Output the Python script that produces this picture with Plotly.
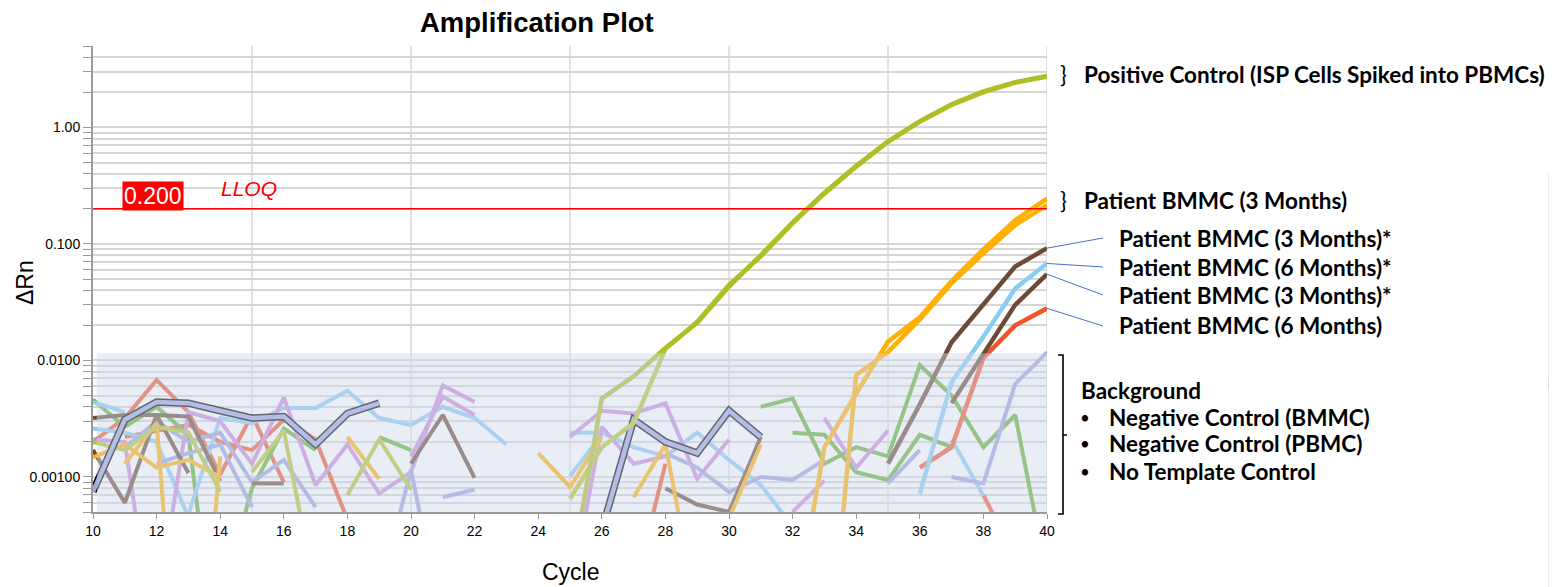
import math
import plotly.graph_objects as go

CYCLES = list(range(10, 41))

# ---------------- main amplification curves (start cycle, values) ----------------
POS_A_START = 25
POS_A = [0.00013, 0.0047, 0.0073, 0.0128, 0.021, 0.043, 0.080, 0.153, 0.276, 0.47, 0.76, 1.13, 1.58, 2.04, 2.45, 2.76]
POS_B_START = 25
POS_B = [0.00065, 0.0018, 0.0029, 0.0125, 0.0215, 0.0445, 0.078, 0.150, 0.270, 0.46, 0.75, 1.12, 1.56, 2.00, 2.42, 2.72]
ORANGE_A_START = 32
ORANGE_A = [0.00005, 0.0018, 0.0052, 0.0145, 0.0235, 0.048, 0.090, 0.160, 0.245]
ORANGE_B_START = 33
ORANGE_B = [0.00001, 0.0075, 0.0118, 0.0225, 0.046, 0.083, 0.145, 0.215]
BROWN_A_START = 35
BROWN_A = [0.0013, 0.0042, 0.0143, 0.030, 0.064, 0.092]
BROWN_B_START = 37
BROWN_B = [0.0043, 0.0115, 0.030, 0.055]
LBLUE_P_START = 36
LBLUE_P = [0.00072, 0.0065, 0.016, 0.0415, 0.068]
RED_P_START = 36
RED_P = [0.0012, 0.0018, 0.0105, 0.020, 0.028]

# highlighted (selected) background well
HIGHLIGHT = [0.00075, 0.0031, 0.0044, 0.0043, 0.0037, 0.0032, 0.0033, 0.0019, 0.0035, 0.0043,
             None, None, None, None, None, None, 0.00035, 0.0031, 0.0020, 0.0016, 0.0037, 0.0022]

# ---------------- background wells: (colour key, start cycle, values) ----------------
BACKGROUND = [
    ("red", 10, [0.002, 0.0032, 0.0068, 0.0036, 0.00105, 0.0034, 0.0009]),
    ("red", 11, [0.0022, 0.0025, 0.0028, 0.002, 0.0017, 0.0031, 0.0021, 0.00043]),
    ("red", 27, [0.0001, 0.0013]),
    ("red", 38, [0.0007, 0.0002]),
    ("green", 10, [0.0046, 0.0027, 0.004, 0.0023, 0.0000145]),
    ("green", 14, [0.00008, 0.0008, 0.0026, 0.0017]),
    ("green", 19, [0.0022, 0.0017]),
    ("green", 31, [0.004, 0.0047, 0.0013, 0.0018, 0.0015, 0.0091, 0.005, 0.0018, 0.0034, 0.00014]),
    ("green", 32, [0.0024, 0.0023, 0.0011, 0.00094, 0.0023, 0.0018]),
    ("lblue", 10, [0.0026, 0.0024, 0.002, 0.00045]),
    ("lblue", 13, [0.00048, 0.0032, 0.0029, 0.0039, 0.0039, 0.0055, 0.0032, 0.0028, 0.004, 0.0032, 0.0019]),
    ("lblue", 10, [0.0044, 0.0036]),
    ("lblue", 25, [0.0024, 0.0024, 0.0018, 0.0015, 0.0024, 0.0014, 0.00085, 0.00038]),
    ("lblue", 25, [0.00102, 0.0023]),
    ("lblue", 37, [0.0021, 0.00069]),
    ("lav", 10, [0.0021, 0.002, 0.00003]),
    ("lav", 12, [0.00007, 0.0036, 0.003, 0.0013, 0.0048, 0.00085, 0.0019, 0.00072, 0.0011, 0.0061, 0.0044]),
    ("lav", 20, [0.0015, 0.0049, 0.0034]),
    ("lav", 25, [0.0022, 0.0037, 0.0035, 0.0043, 0.00096, 0.0021]),
    ("lav", 25, [0.00009, 0.0027, 0.0013, 0.0015]),
    ("lav", 32, [0.0005, 0.00093]),
    ("lav", 33, [0.0032, 0.0012, 0.0025]),
    ("peri", 28, [0.0016, 0.0012, 0.00074, 0.001, 0.00094, 0.0014]),
    ("peri", 37, [0.001, 0.00088, 0.0063, 0.0117]),
    ("peri", 35, [0.00088, 0.0017]),
    ("peri", 11, [0.0018, 0.003, 0.002, 0.0024, 0.0009, 0.0014, 0.00055]),
    ("peri", 12, [0.0013, 0.0016, 0.0019, 0.00055]),
    ("peri", 19, [0.0001, 0.00115, 0.00005]),
    ("peri", 21, [0.00067, 0.00078]),
    ("brown", 10, [0.0032, 0.0034, 0.0034, 0.0033, 0.00092]),
    ("brown", 10, [0.0017, 0.0006, 0.0034, 0.00108]),
    ("brown", 15, [0.00088, 0.00088]),
    ("brown", 20, [0.0013, 0.0034, 0.00098]),
    ("brown", 28, [0.0008, 0.00058, 0.0005, 0.0022]),
    ("orange", 10, [0.00147, 0.0019, 0.0012, 0.0014, 0.001]),
    ("orange", 11, [0.0013, 0.0029, 0.000001]),
    ("orange", 13, [0.000001, 0.0015]),
    ("orange", 18, [0.0022, 0.00096]),
    ("orange", 24, [0.0016, 0.00082, 0.0022]),
    ("orange", 27, [0.00067, 0.0019, 0.00007]),
    ("orange", 30, [0.00044, 0.0019]),
    ("ygreen", 10, [0.002, 0.0017, 0.0027, 0.0024, 0.00075]),
    ("ygreen", 15, [0.0011, 0.0025, 0.0001]),
    ("ygreen", 18, [0.0007, 0.0021, 0.00078]),
]

COLORS = {
    "red": "#f0552a", "green": "#62b02f", "lblue": "#89ccf4", "lav": "#cb8bd8",
    "peri": "#9ca3dd", "brown": "#6d4938", "orange": "#ffb000", "ygreen": "#b4c42c",
}

LLOQ = 0.200
REGION_TOP = 0.0115
Y_MIN, Y_MAX = 0.0005, 5.0
X_GRID = [15, 20, 25, 30, 35, 40]
MAJOR_TICKS = {0.001: "0.00100", 0.01: "0.0100", 0.1: "0.100", 1.0: "1.00"}

LABELS_RIGHT = [
    ("Patient BMMC (3 Months)*", 238, BROWN_A[-1]),
    ("Patient BMMC (6 Months)*", 267, LBLUE_P[-1]),
    ("Patient BMMC (3 Months)*", 295, BROWN_B[-1]),
    ("Patient BMMC (6 Months)", 326, RED_P[-1]),
]
BACKGROUND_ITEMS = ["Negative Control (BMMC)", "Negative Control (PBMC)", "No Template Control"]


def series(start, vals):
    out = [None] * len(CYCLES)
    for i, v in enumerate(vals):
        out[start - CYCLES[0] + i] = v
    return out


# geometry in page pixels; the page body adds an 8px offset
OFF = 8
PAGE_W, PAGE_H = 1557, 587
L, R, T, B = 93, 1047, 46, 512
W, H = PAGE_W - OFF, PAGE_H - OFF


def px(x):
    return (x - L) / (R - L)


def py(y):
    return (B - y) / (B - T)


def vy(v):
    lo, hi = math.log10(Y_MIN), math.log10(Y_MAX)
    return (math.log10(v) - lo) / (hi - lo)


fig = go.Figure()

for key, start, vals in BACKGROUND:
    fig.add_trace(go.Scatter(x=CYCLES, y=series(start, vals), mode="lines",
                             line=dict(color=COLORS[key], width=4), hoverinfo="skip"))

fig.add_trace(go.Scatter(x=CYCLES, y=series(10, HIGHLIGHT), mode="lines",
                         line=dict(color="#000000", width=7.5), hoverinfo="skip"))
fig.add_trace(go.Scatter(x=CYCLES, y=series(10, HIGHLIGHT), mode="lines",
                         line=dict(color="#9ca7dd", width=4.5), hoverinfo="skip"))

for start, vals, col in [
    (RED_P_START, RED_P, "#f0552a"),
    (BROWN_B_START, BROWN_B, "#6d4938"),
    (LBLUE_P_START, LBLUE_P, "#89ccf4"),
    (BROWN_A_START, BROWN_A, "#6d4938"),
    (ORANGE_B_START, ORANGE_B, "#ffb000"),
    (ORANGE_A_START, ORANGE_A, "#ffb000"),
    (POS_B_START, POS_B, "#b8c62c"),
    (POS_A_START, POS_A, "#afbe26"),
]:
    fig.add_trace(go.Scatter(x=CYCLES, y=series(start, vals), mode="lines",
                             line=dict(color=col, width=4.5), hoverinfo="skip"))

fig.add_trace(go.Scatter(x=[CYCLES[0], CYCLES[-1]], y=[LLOQ, LLOQ], mode="lines",
                         line=dict(color="#ff0000", width=1.5), hoverinfo="skip"))

shapes = []
for gx in X_GRID:
    shapes.append(dict(type="line", xref="x", yref="paper", x0=gx, x1=gx, y0=0, y1=1,
                       line=dict(color="#c6c6c6", width=1), layer="below"))
# background (noise) band overlay
shapes.append(dict(type="rect", xref="x", yref="paper", x0=10.12, x1=40, y0=0, y1=vy(REGION_TOP),
                   fillcolor="rgba(208,216,235,0.47)", line=dict(width=0), layer="above"))
# leader lines
for text, ly, v in LABELS_RIGHT:
    shapes.append(dict(type="line", xref="paper", yref="paper", x0=1.0, y0=vy(v),
                       x1=px(1103), y1=py(ly), line=dict(color="#4a72c8", width=1)))
# large bracket for background
shapes.append(dict(type="path", xref="paper", yref="paper",
                   path=f"M {px(1058)} {py(355)} L {px(1063)} {py(355)} L {px(1063)} {py(435)} "
                        f"L {px(1067)} {py(435)} L {px(1063)} {py(435)} L {px(1063)} {py(514)} "
                        f"L {px(1058)} {py(514)}",
                   line=dict(color="#000000", width=1.6)))
# window-edge artefact at right
shapes.append(dict(type="rect", xref="paper", yref="paper", x0=px(1549), x1=px(1552),
                   y0=py(600), y1=py(172), line=dict(color="#d9d9d9", width=1)))
shapes.append(dict(type="line", xref="paper", yref="paper", x0=px(1552), x1=px(1560),
                   y0=py(172), y1=py(172), line=dict(color="#d9d9d9", width=1)))
for yy in (384, 387):
    shapes.append(dict(type="line", xref="paper", yref="paper", x0=px(1548), x1=px(1557),
                       y0=py(yy), y1=py(yy), line=dict(color="#b0b0b0", width=1)))


def note(text, x, y, font, xanchor="center", **kw):
    return dict(text=text, x=px(x), y=py(y), xref="paper", yref="paper", showarrow=False,
                xanchor=xanchor, yanchor="middle", font=font, **kw)


ARIAL = "Liberation Sans"
ann = [
    note("<b>Amplification Plot</b>", 537, 22, dict(family=ARIAL, size=27.5, color="black")),
    note("Cycle", 571, 572, dict(family=ARIAL, size=23, color="black")),
    note("ΔRn", 25, 283, dict(family=ARIAL, size=23, color="black"), textangle=-90),
    note("0.200", 153, 196, dict(family=ARIAL, size=23, color="white"), bgcolor="#ff0000", borderpad=1),
    note("<i>LLOQ</i>", 249, 188, dict(family=ARIAL, size=21, color="#ff0000")),
]

RF = dict(family="Lato", size=22.5, color="black")
for yy in (74, 200):
    ann.append(note("}", 1063, yy, RF))
ann.append(note("<b>Positive Control (ISP Cells Spiked into PBMCs)</b>", 1082, 74, RF, xanchor="left"))
ann.append(note("<b>Patient BMMC (3 Months)</b>", 1082, 200, RF, xanchor="left"))
for text, ly, v in LABELS_RIGHT:
    ann.append(note(f"<b>{text}</b>", 1117, ly, RF, xanchor="left"))
ann.append(note("<b>Background</b>", 1079, 390, RF, xanchor="left"))
for i, item in enumerate(BACKGROUND_ITEMS):
    yy = 417 + 27 * i
    ann.append(note("•", 1085, yy, dict(family="Lato", size=17, color="black")))
    ann.append(note(f"<b>{item}</b>", 1107, yy, RF, xanchor="left"))

tickvals, ticktext = [], []
for d in range(-4, 1):
    for k in range(1, 10):
        v = round(k * 10 ** d, 6)
        if Y_MIN - 1e-12 <= v <= Y_MAX + 1e-12:
            tickvals.append(v)
            ticktext.append(MAJOR_TICKS.get(v, ""))

fig.update_layout(
    width=W, height=H,
    margin=dict(l=L - OFF, r=PAGE_W - R, t=T - OFF, b=PAGE_H - B, pad=0),
    paper_bgcolor="white", plot_bgcolor="white",
    showlegend=False,
    shapes=shapes, annotations=ann,
    xaxis=dict(range=[10, 40], tickmode="array", tickvals=list(range(10, 41, 2)),
               showgrid=False, zeroline=False, showline=True, linecolor="#9a9a9a", linewidth=2,
               ticks="outside", ticklen=5, tickcolor="#9a9a9a",
               tickfont=dict(family=ARIAL, size=14, color="black")),
    yaxis=dict(type="log", range=[math.log10(Y_MIN), math.log10(Y_MAX)],
               tickmode="array", tickvals=tickvals, ticktext=ticktext,
               showgrid=True, gridcolor="#d6d6d6", gridwidth=2, zeroline=False,
               showline=True, linecolor="#9a9a9a", linewidth=2,
               ticks="outside", ticklen=8, tickcolor="#9a9a9a",
               tickfont=dict(family=ARIAL, size=14, color="black")),
)

fig.write_html("out.html")
